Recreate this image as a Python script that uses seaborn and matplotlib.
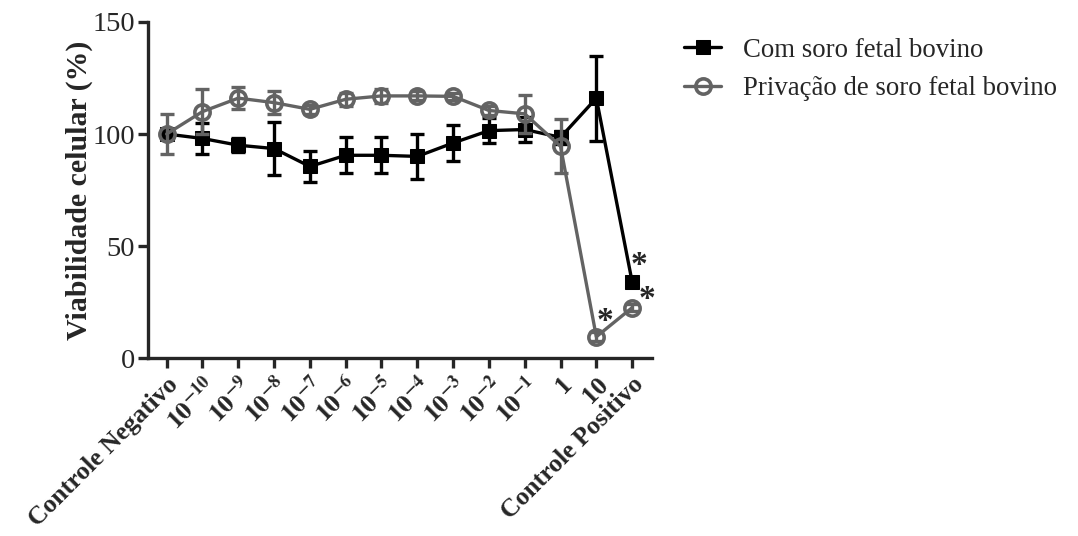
import pandas as pd
import seaborn as sns
import matplotlib.pyplot as plt

sns.set_style("ticks")
plt.rcParams['font.family'] = ['Liberation Serif', 'DejaVu Serif']
plt.rcParams['mathtext.fontset'] = 'stix'

# concentrações testadas (eixo x)
concentracoes = ['Controle Negativo', r'$\mathbf{10^{-10}}$', r'$\mathbf{10^{-9}}$', r'$\mathbf{10^{-8}}$',
                 r'$\mathbf{10^{-7}}$', r'$\mathbf{10^{-6}}$', r'$\mathbf{10^{-5}}$', r'$\mathbf{10^{-4}}$',
                 r'$\mathbf{10^{-3}}$', r'$\mathbf{10^{-2}}$', r'$\mathbf{10^{-1}}$', '1', '10',
                 'Controle Positivo']

com_soro_media = [100, 98, 95, 93.5, 85.5, 90.5, 90.5, 90, 96, 101.5, 102, 98.5, 116, 34]
com_soro_dp = [2, 7, 3, 12, 7, 8, 8, 10, 8, 5.5, 5.5, 3, 19, 2]

privacao_media = [100, 110, 116, 114, 111, 115.5, 117, 117, 116.8, 110.5, 109, 94.5, 9.5, 22.5]
privacao_dp = [9, 10, 5, 5, 2, 3, 3, 2, 1.5, 2, 8.5, 12, 2, 1.5]

# asteriscos de significância: (serie, indice)
significativos = [('privacao', 12), ('com_soro', 13), ('privacao', 13)]

PRETO = '#000000'
CINZA = '#636363'


def main():
    n = len(concentracoes)
    x = list(range(n))
    df = pd.DataFrame({'x': x, 'com_soro': com_soro_media, 'privacao': privacao_media})

    fig = plt.figure(figsize=(10.78, 5.36), dpi=100)
    ax = fig.add_axes([0.137, 0.332, 0.468, 0.627])

    ax.errorbar(x, com_soro_media, yerr=com_soro_dp, fmt='none', ecolor=PRETO,
                elinewidth=2.4, capsize=5, capthick=2.4, zorder=2)
    sns.lineplot(data=df, x='x', y='com_soro', ax=ax, color=PRETO, linewidth=2.4,
                 marker='s', markersize=10, markeredgecolor=PRETO, markerfacecolor=PRETO,
                 label='Com soro fetal bovino', zorder=3)
    ax.errorbar(x, privacao_media, yerr=privacao_dp, fmt='none', ecolor=CINZA,
                elinewidth=2.4, capsize=5, capthick=2.4, zorder=4)
    sns.lineplot(data=df, x='x', y='privacao', ax=ax, color=CINZA, linewidth=2.4,
                 marker='o', markersize=11, markeredgewidth=2.6, markeredgecolor=CINZA,
                 markerfacecolor='none', label='Privação de soro fetal bovino', zorder=5)

    offsets = {('privacao', 12): (6, 11), ('com_soro', 13): (5, 12), ('privacao', 13): (11, 6)}
    for serie, i in significativos:
        yv = privacao_media[i] if serie == 'privacao' else com_soro_media[i]
        ax.annotate('*', (i, yv), xytext=offsets[(serie, i)], textcoords='offset points',
                    ha='center', va='center', fontsize=24, fontweight='bold')

    ax.set_xlim(-0.53, n - 1 + 0.56)
    ax.set_ylim(0, 150)
    ax.set_yticks([0, 50, 100, 150])
    ax.set_xticks(x)
    ax.set_xticklabels(concentracoes, rotation=45, ha='right', rotation_mode='anchor',
                       fontsize=18.5, fontweight='bold')
    ax.tick_params(axis='y', labelsize=20.5, width=2.4, length=7, direction='out', pad=2)
    ax.tick_params(axis='x', width=2.4, length=7, direction='out')
    ax.set_xlabel('')
    ax.set_ylabel('Viabilidade celular (%)', fontsize=21.5, fontweight='bold', labelpad=0)
    sns.despine(ax=ax)
    for s in ['left', 'bottom']:
        ax.spines[s].set_linewidth(2.4)

    ax.legend(loc='upper left', bbox_to_anchor=(0.612, 0.975), bbox_transform=fig.transFigure,
              frameon=False, fontsize=19.3, handlelength=1.4, labelspacing=0.5, handletextpad=0.8)

    fig.savefig('out.png', dpi=100)


if __name__ == '__main__':
    main()
